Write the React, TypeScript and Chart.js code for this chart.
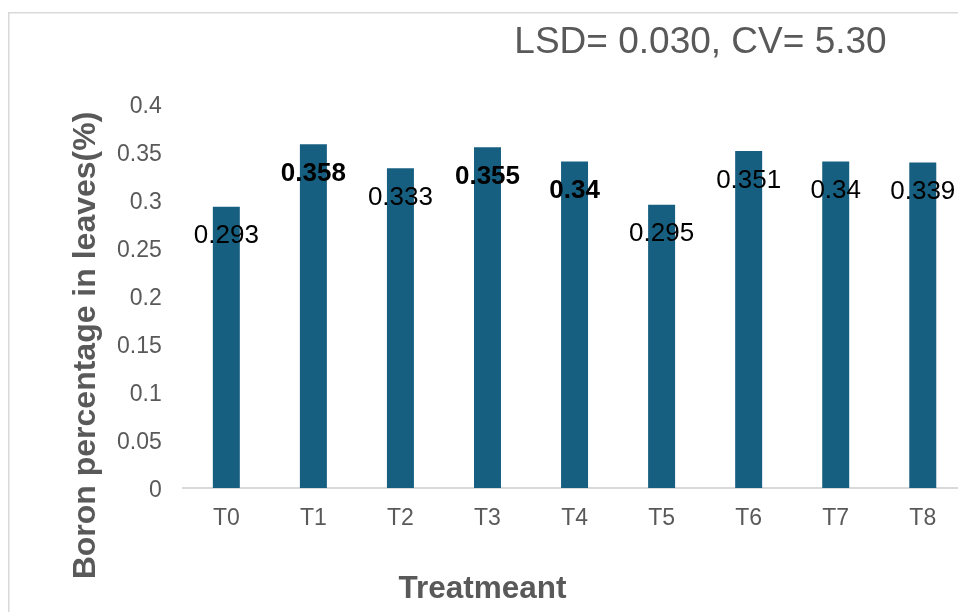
import { useEffect, useRef } from "react";
import { Chart, registerables } from "chart.js";

Chart.register(...registerables);

// Boron content in leaves per treatment
const treatments = ["T0", "T1", "T2", "T3", "T4", "T5", "T6", "T7", "T8"];
const boronPercent = [0.293, 0.358, 0.333, 0.355, 0.34, 0.295, 0.351, 0.34, 0.339];
// Value labels shown in bold
const boldValueLabels = [false, true, false, true, true, false, false, false, false];

const yMin = 0;
const yMax = 0.4;
const yStep = 0.05;

const statsNote = "LSD= 0.030, CV= 5.30";
const xTitle = "Treatmeant";
const yTitle = "Boron percentage in leaves(%)";

const FONT = '"Liberation Sans", Arial, sans-serif';
const GREY = "#595959";
const BAR = "#175f80";

const decorPlugin = {
  id: "decor",
  beforeDraw(chart: any) {
    const { ctx, width, height } = chart;
    ctx.save();
    ctx.fillStyle = "#ffffff";
    ctx.fillRect(0, 0, width, height);
    ctx.strokeStyle = "#d9d9d9";
    ctx.lineWidth = 1.5;
    ctx.strokeRect(8.75, 12.75, width + 50, height + 50);
    ctx.restore();
  },
  afterDraw(chart: any) {
    const { ctx } = chart;
    ctx.save();
    ctx.fillStyle = GREY;
    // statistics note
    ctx.font = `37px ${FONT}`;
    ctx.textAlign = "center";
    ctx.textBaseline = "alphabetic";
    ctx.fillText(statsNote, 700.5, 53);
    // axis titles
    ctx.font = `bold 31.5px ${FONT}`;
    ctx.fillText(xTitle, 482.5, 598);
    ctx.font = `bold 32px ${FONT}`;
    ctx.translate(95, 345.5);
    ctx.rotate(-Math.PI / 2);
    ctx.fillText(yTitle, 0, 0);
    ctx.restore();
  },
};

const valueLabelPlugin = {
  id: "valueLabels",
  afterDatasetsDraw(chart: any) {
    const { ctx } = chart;
    const meta = chart.getDatasetMeta(0);
    ctx.save();
    ctx.fillStyle = "#000000";
    ctx.textAlign = "center";
    ctx.textBaseline = "middle";
    meta.data.forEach((bar: any, i: number) => {
      ctx.font = `${boldValueLabels[i] ? "bold " : ""}26px ${FONT}`;
      ctx.fillText(String(boronPercent[i]), bar.x, bar.y + 29.5);
    });
    ctx.restore();
  },
};

export default function App() {
  const canvasRef = useRef<HTMLCanvasElement>(null);

  useEffect(() => {
    const chart = new Chart(canvasRef.current!, {
      type: "bar",
      data: {
        labels: treatments,
        datasets: [
          {
            data: boronPercent,
            backgroundColor: BAR,
            borderWidth: 0,
            barPercentage: 0.31,
            categoryPercentage: 1,
          },
        ],
      },
      options: {
        responsive: false,
        animation: false,
        layout: { padding: { left: 0, top: 104, right: 33.7, bottom: 92 } },
        plugins: {
          legend: { display: false },
          tooltip: { enabled: false },
        },
        scales: {
          x: {
            grid: { display: false, drawTicks: false },
            border: { display: true, color: "#d9d9d9", width: 2 },
            ticks: { color: GREY, font: { family: FONT, size: 23 }, padding: 17 },
            afterFit: (s: any) => {
              s.height = 60;
            },
          },
          y: {
            min: yMin,
            max: yMax,
            grid: { display: false, drawTicks: false },
            border: { display: false },
            ticks: {
              stepSize: yStep,
              color: GREY,
              font: { family: FONT, size: 23 },
              padding: 21,
              labelOffset: 2.5,
              callback: (v: any) => String(Math.round(Number(v) * 100) / 100),
            },
            afterFit: (s: any) => {
              s.width = 182.8;
            },
          },
        },
      },
      plugins: [decorPlugin, valueLabelPlugin],
    });
    return () => chart.destroy();
  }, []);

  return (
    <div
      style={{
        position: "fixed",
        left: 0,
        top: 0,
        width: 958,
        height: 612,
        overflow: "hidden",
        background: "#ffffff",
      }}
    >
      <canvas
        ref={canvasRef}
        width={1000}
        height={640}
        style={{ display: "block", width: 1000, height: 640 }}
      />
    </div>
  );
}
